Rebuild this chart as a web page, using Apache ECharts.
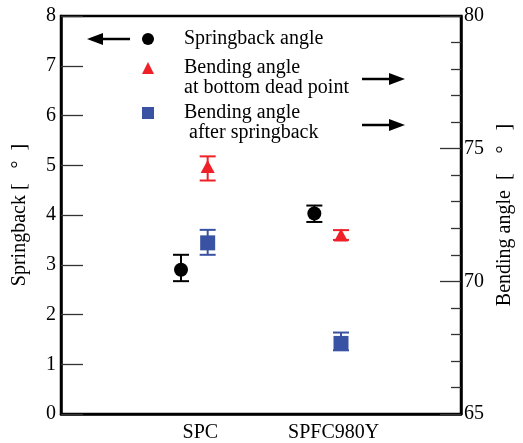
<!DOCTYPE html>
<html>
<head>
<meta charset="utf-8">
<script src="https://cdn.jsdelivr.net/npm/echarts@6/dist/echarts.min.js"></script>
<style>html,body{margin:0;padding:0;background:#fff}#c{width:523px;height:443px}</style>
</head>
<body>
<div id="c"></div>
<script>
const categories = ['SPC', 'SPFC980Y'];
const springback = [2.9, 4.03];
const springbackLow = [2.67, 3.86];
const springbackHigh = [3.2, 4.19];
const bendBDP = [74.33, 71.75];
const bendBDPLow = [73.8, 71.56];
const bendBDPHigh = [74.71, 71.93];
const bendAfter = [71.45, 67.66];
const bendAfterLow = [71.0, 67.4];
const bendAfterHigh = [71.94, 68.07];
const leftRange = [0, 8];
const rightRange = [65, 80];
const seriesNames = ['Springback angle', 'Bending angle\nat bottom dead point', 'Bending angle\n after springback'];

const FONT = "'Liberation Serif', 'Times New Roman', serif";
const RED = '#ed2127';
const BLUE = '#3a52a3';
const OFF_LEFT = -0.1, OFF_RIGHT = 0.1;

function pts(vals, off) { return vals.map((v, i) => [i + 1 + off, v]); }
function errPts(lo, hi, off) { return lo.map((l, i) => [i + 1 + off, l, hi[i]]); }

function errSeries(lo, hi, off, color, yIdx) {
  return {
    type: 'custom', yAxisIndex: yIdx, z: 1, silent: true,
    data: errPts(lo, hi, off),
    encode: { x: 0, y: [1, 2] },
    renderItem: function (params, api) {
      const p1 = api.coord([api.value(0), api.value(1)]);
      const p2 = api.coord([api.value(0), api.value(2)]);
      const w = 8;
      const st = { stroke: color, lineWidth: 2 };
      return { type: 'group', children: [
        { type: 'line', shape: { x1: p1[0], y1: p1[1], x2: p2[0], y2: p2[1] }, style: st },
        { type: 'line', shape: { x1: p1[0] - w, y1: p1[1], x2: p1[0] + w, y2: p1[1] }, style: st },
        { type: 'line', shape: { x1: p2[0] - w, y1: p2[1], x2: p2[0] + w, y2: p2[1] }, style: st }
      ]};
    }
  };
}

const chart = echarts.init(document.getElementById('c'), null, { renderer: 'canvas' });
const tickStyle = { color: '#333', width: 1.3 };
const legendText = { fontFamily: FONT, fontSize: 20, color: '#000', lineHeight: 20, padding: [0, 0, 0, 25] };
function legendAt(top, name, multi) {
  return { orient: 'vertical', left: 142, top: top, padding: 0, itemWidth: 12, itemHeight: 12,
    selectedMode: false, data: [name], textStyle: legendText,
    formatter: multi ? (n => ' \n' + n) : (n => n) };
}

chart.setOption({
  animation: false,
  textStyle: { fontFamily: FONT },
  grid: { left: 61, right: 62, top: 16, bottom: 26, show: true, borderColor: '#000', borderWidth: 2.5 },
  legend: [
    legendAt(29, seriesNames[0], false),
    legendAt(38, seriesNames[1], true),
    legendAt(83, seriesNames[2], true)
  ],
  xAxis: {
    type: 'value', min: 0, max: 3, interval: 1,
    axisLine: { show: true, lineStyle: { color: '#000', width: 2.5 } },
    axisTick: { show: false }, splitLine: { show: false },
    axisLabel: { fontFamily: FONT, fontSize: 20, color: '#000', margin: 9, padding: [0, 0, 0, 12],
      formatter: v => categories[Math.round(v) - 1] || '' }
  },
  yAxis: [
    { type: 'value', position: 'left', min: leftRange[0], max: leftRange[1], interval: 1,
      name: 'Springback [   °  ]', nameLocation: 'middle', nameRotate: 90, nameGap: 31,
      nameTextStyle: { fontFamily: FONT, fontSize: 20, color: '#000' },
      axisLine: { show: true, lineStyle: { color: '#000', width: 2.5 } },
      axisTick: { show: true, inside: true, length: 22, lineStyle: tickStyle },
      axisLabel: { fontFamily: FONT, fontSize: 20, color: '#000', margin: 5 },
      splitLine: { show: false } },
    { type: 'value', position: 'right', min: rightRange[0], max: rightRange[1], interval: 5,
      name: 'Bending angle  [    °   ]', nameLocation: 'middle', nameRotate: 90, nameGap: 34,
      nameTextStyle: { fontFamily: FONT, fontSize: 20, color: '#000' },
      axisLine: { show: true, lineStyle: { color: '#000', width: 2.5 } },
      axisTick: { show: true, inside: true, length: 21, lineStyle: tickStyle },
      minorTick: { show: true, splitNumber: 5, length: 10, lineStyle: tickStyle },
      axisLabel: { fontFamily: FONT, fontSize: 20, color: '#000', margin: 3 },
      splitLine: { show: false } }
  ],
  series: [
    errSeries(springbackLow, springbackHigh, OFF_LEFT, '#000', 0),
    errSeries(bendBDPLow, bendBDPHigh, OFF_RIGHT, RED, 1),
    errSeries(bendAfterLow, bendAfterHigh, OFF_RIGHT, BLUE, 1),
    { name: seriesNames[0], type: 'scatter', yAxisIndex: 0, z: 3, symbol: 'circle', symbolSize: 14,
      itemStyle: { color: '#000', opacity: 1 }, data: pts(springback, OFF_LEFT) },
    { name: seriesNames[1], type: 'scatter', yAxisIndex: 1, z: 3, symbol: 'triangle', symbolSize: [14, 13],
      itemStyle: { color: RED, opacity: 1 }, data: pts(bendBDP, OFF_RIGHT) },
    { name: seriesNames[2], type: 'scatter', yAxisIndex: 1, z: 3, symbol: 'rect', symbolSize: 15,
      itemStyle: { color: BLUE, opacity: 1 }, data: pts(bendAfter, OFF_RIGHT) }
  ],
  graphic: [
    { type: 'line', shape: { x1: 130, y1: 39, x2: 100, y2: 39 }, style: { stroke: '#000', lineWidth: 2.5 } },
    { type: 'polygon', shape: { points: [[87, 39], [103, 33], [103, 45]] }, style: { fill: '#000' } },
    { type: 'line', shape: { x1: 362, y1: 79, x2: 392, y2: 79 }, style: { stroke: '#000', lineWidth: 2.5 } },
    { type: 'polygon', shape: { points: [[405, 79], [389, 73], [389, 85]] }, style: { fill: '#000' } },
    { type: 'line', shape: { x1: 362, y1: 125, x2: 392, y2: 125 }, style: { stroke: '#000', lineWidth: 2.5 } },
    { type: 'polygon', shape: { points: [[405, 125], [389, 119], [389, 131]] }, style: { fill: '#000' } }
  ]
});
</script>
</body>
</html>
